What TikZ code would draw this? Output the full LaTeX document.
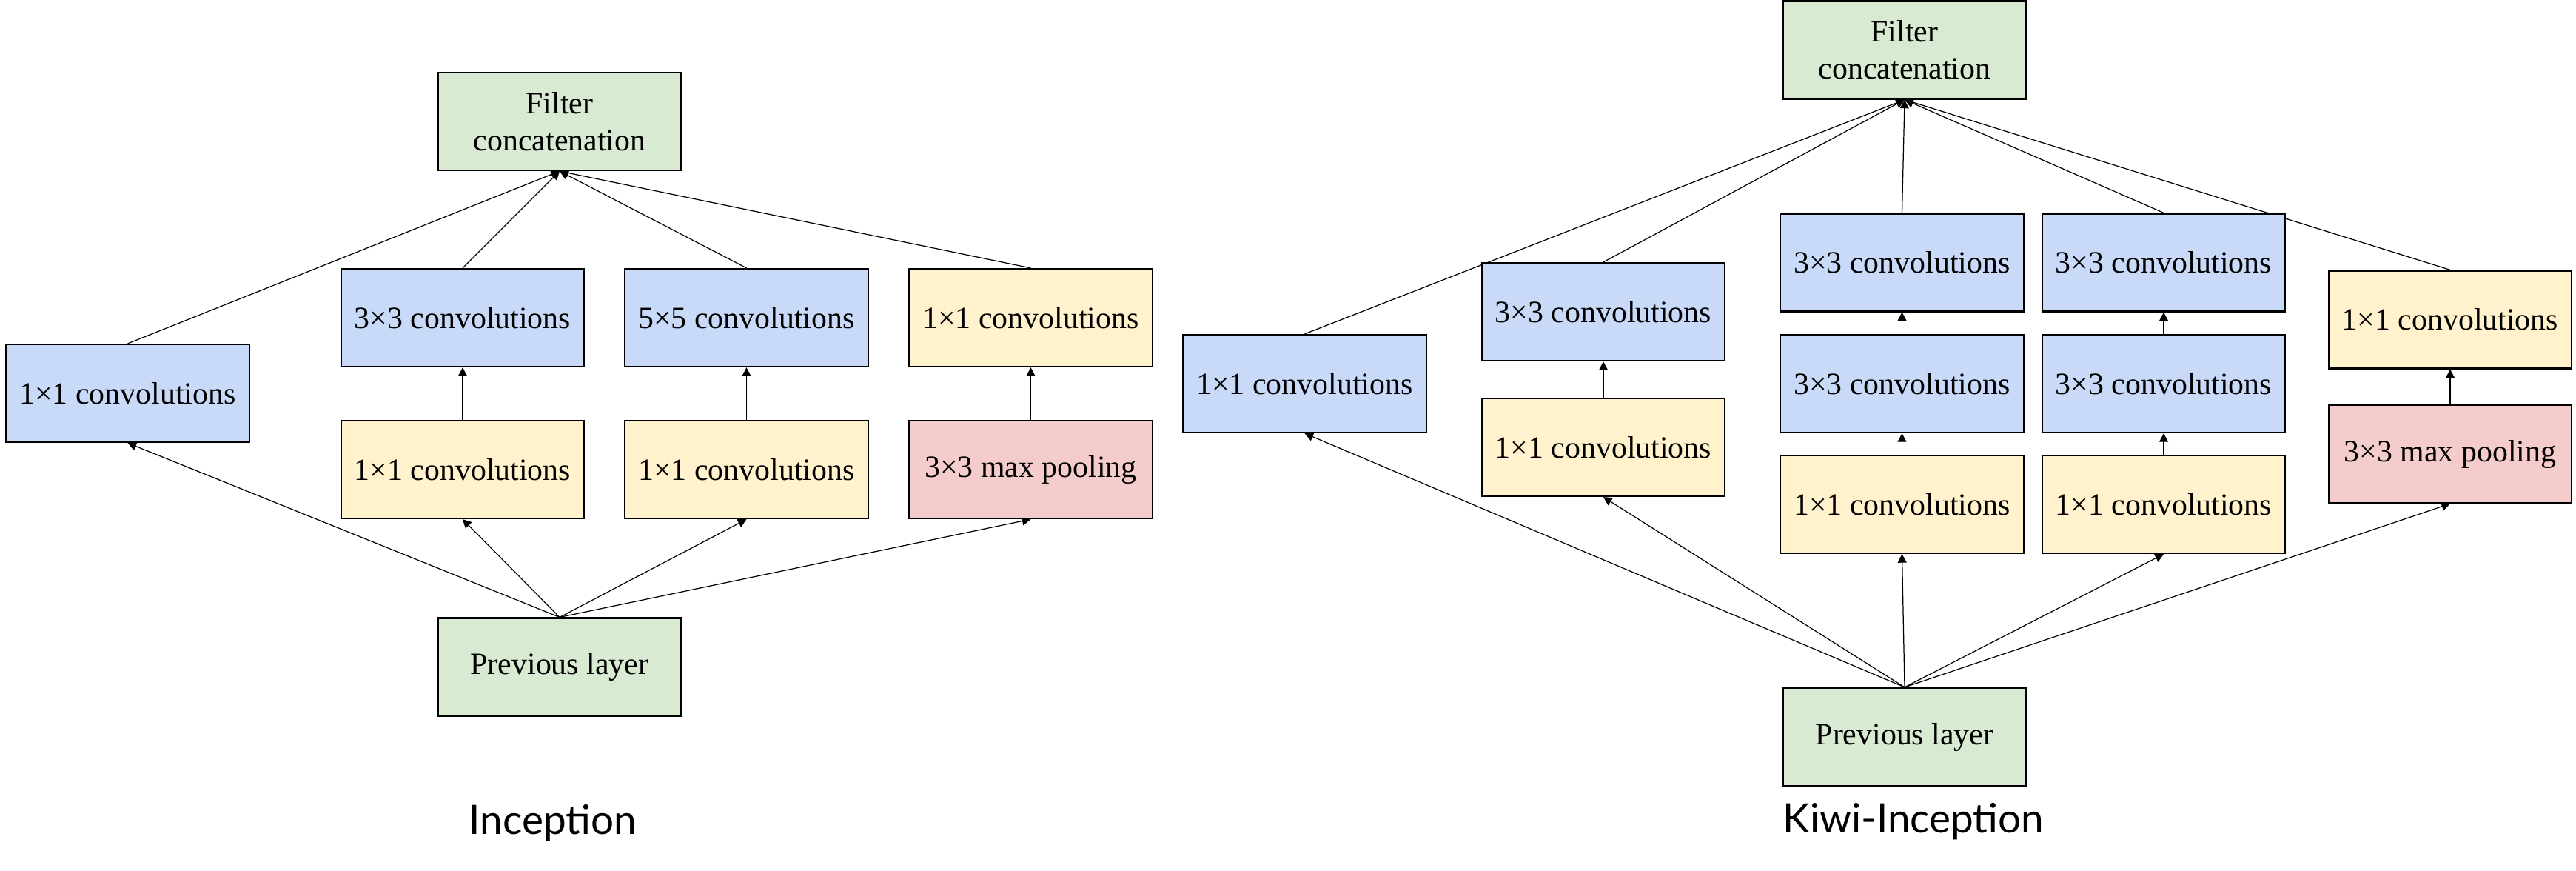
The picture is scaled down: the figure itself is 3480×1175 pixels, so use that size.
\documentclass[tikz,border=0pt]{standalone}
\usepackage{fontspec}
\setmainfont{Liberation Serif}
\newfontfamily\labfont{Lato}
\usetikzlibrary{arrows.meta,backgrounds}
\definecolor{cgreen}{HTML}{D9EAD3}
\definecolor{cblue}{HTML}{C9DAF8}
\definecolor{cyellow}{HTML}{FFF2CC}
\definecolor{cred}{HTML}{F4CCCC}
\begin{document}
\begin{tikzpicture}[x=0.01cm,y=-0.01cm,
  box/.style={draw=black, line width=0.6pt, minimum width=3.28cm, minimum height=1.32cm,
    inner sep=0pt, align=center, font=\fontsize{11.9}{14.2}\selectfont},
  gbox/.style={box, fill=cgreen},
  bbox/.style={box, fill=cblue},
  ybox/.style={box, fill=cyellow},
  rbox/.style={box, fill=cred},
  conn/.style={line width=0.35pt, -{Triangle[length=3.3pt,width=3.4pt]}},
  lab/.style={font=\labfont\fontsize{15.6}{18}\selectfont, anchor=base, inner sep=0pt}]
\useasboundingbox (0,0) rectangle (3480,1175);

% ---------------- Inception ----------------
\node[gbox] (fa) at (756,164) {Filter\\concatenation};
\node[bbox] (a1) at (172.5,531) {1×1 convolutions};
\node[bbox] (a2) at (625,429) {3×3 convolutions};
\node[bbox] (a3) at (1008.5,429) {5×5 convolutions};
\node[ybox] (a4) at (1392.5,429) {1×1 convolutions};
\node[ybox] (b2) at (625,634) {1×1 convolutions};
\node[ybox] (b3) at (1008.5,634) {1×1 convolutions};
\node[rbox] (b4) at (1392.5,634) {3×3 max pooling};
\node[gbox] (pa) at (756,900.5) {Previous layer};
\node[lab] (la) at (747,1126) {Inception};

% ---------------- Kiwi-Inception ----------------
\node[gbox] (fb) at (2573,67.5) {Filter\\concatenation};
\node[bbox] (r1) at (1762.5,518) {1×1 convolutions};
\node[bbox] (r2t) at (2166,421) {3×3 convolutions};
\node[ybox] (r2b) at (2166,604) {1×1 convolutions};
\node[bbox] (r3t) at (2569.5,354.5) {3×3 convolutions};
\node[bbox] (r3m) at (2569.5,518) {3×3 convolutions};
\node[ybox] (r3b) at (2569.5,681) {1×1 convolutions};
\node[bbox] (r4t) at (2923,354.5) {3×3 convolutions};
\node[bbox] (r4m) at (2923,518) {3×3 convolutions};
\node[ybox] (r4b) at (2923,681) {1×1 convolutions};
\node[ybox] (r5t) at (3310,431.5) {1×1 convolutions};
\node[rbox] (r5b) at (3310,613) {3×3 max pooling};
\node[gbox] (pb) at (2573,995) {Previous layer};
\node[lab] (lb) at (2585,1124) {Kiwi-Inception};

\begin{scope}[on background layer]
  % Inception connectors
  \foreach \n in {a1,b2,b3,b4} \draw[conn] (pa.north) -- (\n.south);
  \foreach \n in {a1,a2,a3,a4} \draw[conn] (\n.north) -- (fa.south);
  \draw[conn] (b2.north) -- (a2.south);
  \draw[conn] (b3.north) -- (a3.south);
  \draw[conn] (b4.north) -- (a4.south);
  % Kiwi-Inception connectors
  \foreach \n in {r1,r2b,r3b,r4b,r5b} \draw[conn] (pb.north) -- (\n.south);
  \foreach \n in {r1,r2t,r3t,r4t,r5t} \draw[conn] (\n.north) -- (fb.south);
  \draw[conn] (r2b.north) -- (r2t.south);
  \draw[conn] (r3b.north) -- (r3m.south);
  \draw[conn] (r3m.north) -- (r3t.south);
  \draw[conn] (r4b.north) -- (r4m.south);
  \draw[conn] (r4m.north) -- (r4t.south);
  \draw[conn] (r5b.north) -- (r5t.south);
\end{scope}
\end{tikzpicture}
\end{document}
